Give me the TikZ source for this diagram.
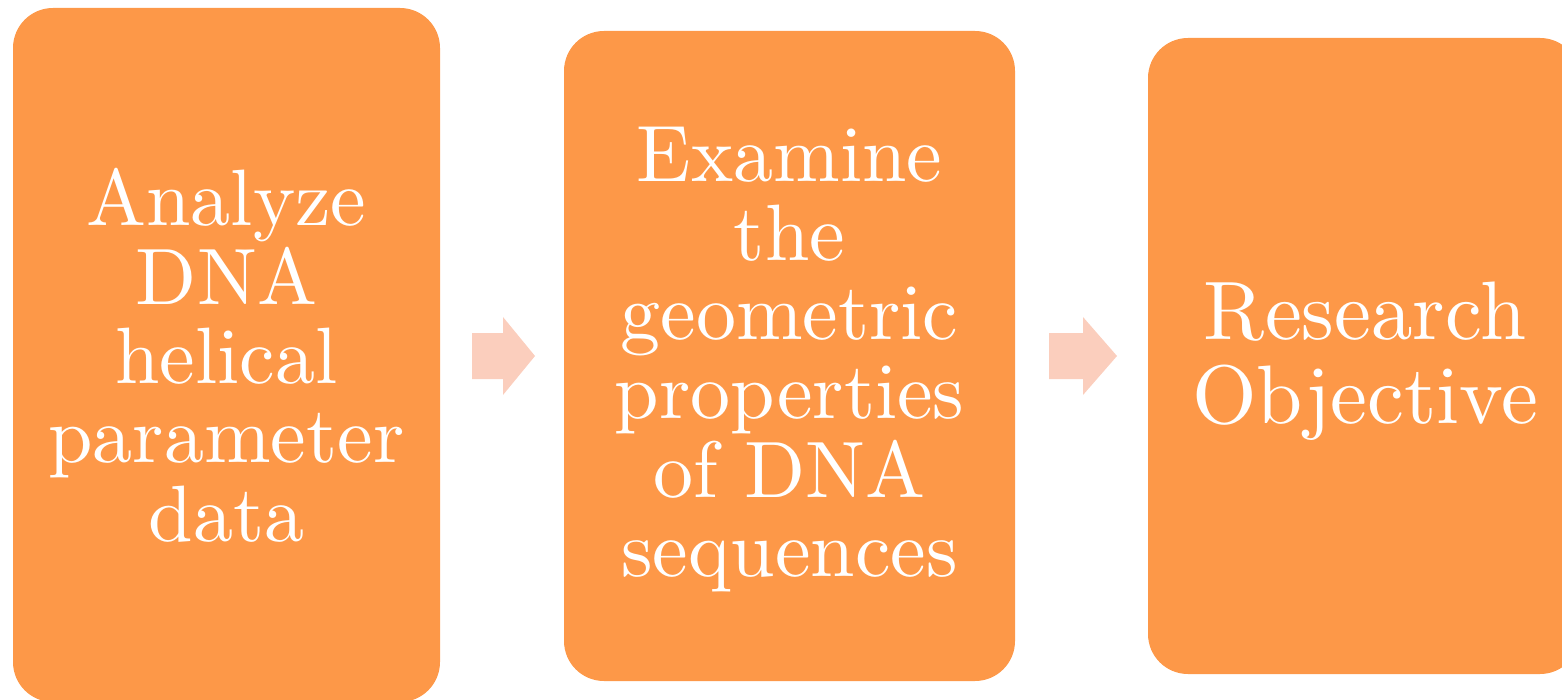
\documentclass[tikz,border=0pt]{standalone}
\usepackage{fontspec}
\newfontfamily\lmten{lmroman10-regular}[Extension=.otf]
\definecolor{boxorange}{RGB}{253,152,72}
\definecolor{arrowpeach}{RGB}{251,206,189}
\begin{document}
\begin{tikzpicture}[x=1pt,y=-1pt,
  stepbox/.style={fill=boxorange, draw=none, rounded corners=40pt, inner sep=0pt},
  steptext/.style={text=white, align=center, inner sep=0pt, font=\lmten\fontsize{80}{79}\selectfont},
  blockarrow/.style={fill=arrowpeach, draw=none}]
\useasboundingbox (0,0) rectangle (1562,700);
\clip (0,0) rectangle (1562,700);
\node[stepbox, minimum width=427pt, minimum height=694pt] (b1) at (226.5,355) {};
\node[steptext] (t1) at (226.5,355) {Analyze\\DNA\\helical\\parameter\\data};
\node[stepbox, minimum width=451pt, minimum height=650pt] (b2) at (789.5,356) {};
\node[steptext] (t2) at (789.5,360) {Examine\\the\\geometric\\properties\\of DNA\\sequences};
\node[stepbox, minimum width=432pt, minimum height=636pt] (b3) at (1364,356) {};
\node[steptext, font=\lmten\fontsize{83}{84}\selectfont] (t3) at (1365,361) {Research\\Objective};
\fill[blockarrow] (472,333) -- (503,333) -- (503,317) -- (535,356) -- (503,395) -- (503,379) -- (472,379) -- cycle;
\fill[blockarrow] (1049,333) -- (1083,333) -- (1083,317) -- (1117,356) -- (1083,395) -- (1083,379) -- (1049,379) -- cycle;
\end{tikzpicture}
\end{document}
